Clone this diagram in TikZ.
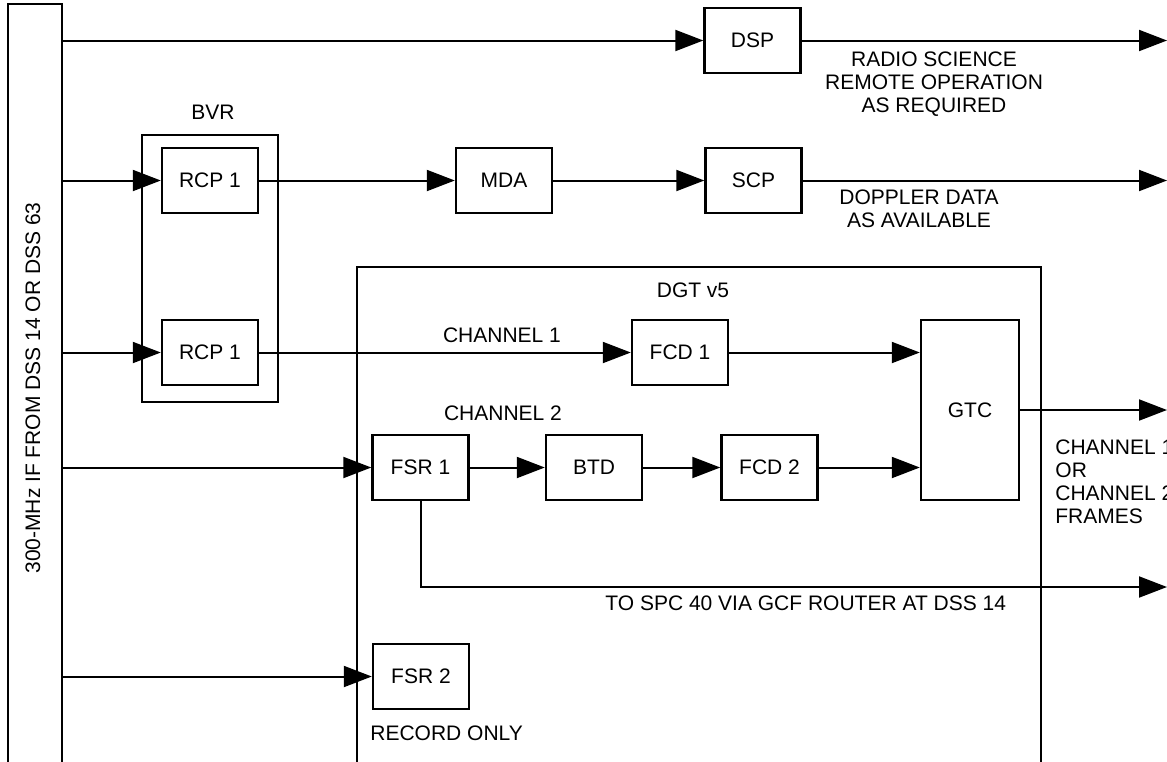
\documentclass[tikz,border=0pt]{standalone}
\usepackage{fontspec}
\setmainfont{Liberation Sans}
\usepackage{tikz}
\usetikzlibrary{arrows.meta,positioning,calc}

\begin{document}
\begin{tikzpicture}[
  x=0.5pt, y=-0.5pt,
  font=\fontsize{10.5}{11.5}\selectfont,
  blk/.style={draw, line width=1.2pt, minimum width=48pt, minimum height=32.5pt, inner sep=0pt},
  frame/.style={draw, line width=1.2pt, inner sep=0pt},
  lbl/.style={align=center, inner sep=0pt},
  note/.style={align=left, inner sep=0pt, anchor=west},
  arr/.style={-{Triangle[length=14pt, width=10.5pt]}, line width=1pt},
]
\useasboundingbox (0,0) rectangle (1167,761);
% input bus
\node[frame, minimum width=27pt, minimum height=400pt] (bus) at (35,404) {};
\node[lbl, rotate=90] (buslbl) at (33,388) {300-MHz IF FROM DSS 14 OR DSS 63};
% outer groups
\node[frame, minimum width=68pt, minimum height=133.5pt] (bvr) at (210,268.5) {};
\node[lbl] (bvrlbl) at (213,112) {BVR};
\node[frame, minimum width=342pt, minimum height=270pt] (dgt) at (699,537) {};
\node[lbl] (dgtlbl) at (693,290) {DGT v5};
% blocks
\node[blk] (dsp) at (752.5,40.5) {DSP};
\node[blk] (rcpa) at (210,180.5) {RCP 1};
\node[blk] (mda) at (504,180.5) {MDA};
\node[blk] (scp) at (753.5,180.5) {SCP};
\node[blk] (rcpb) at (210,352.5) {RCP 1};
\node[blk] (fcda) at (680,352.5) {FCD 1};
\node[blk, minimum width=49pt, minimum height=90pt] (gtc) at (970,410) {GTC};
\node[blk] (fsra) at (420.5,467.5) {FSR 1};
\node[blk] (btd) at (594,467.5) {BTD};
\node[blk] (fcdb) at (769.5,467.5) {FCD 2};
\node[blk] (fsrb) at (421,676.5) {FSR 2};
\coordinate (edge) at (1167,0);
\coordinate (spc) at (1167,587);
% links
\draw[arr] (bus.east |- dsp) -- (dsp);
\draw[arr] (dsp) -- (dsp -| edge);
\draw[arr] (bus.east |- rcpa) -- (rcpa);
\draw[arr] (rcpa) -- (mda); \draw[arr] (mda) -- (scp);
\draw[arr] (scp) -- (scp -| edge);
\draw[arr] (bus.east |- rcpb) -- (rcpb);
\draw[arr] (rcpb) -- (fcda);
\draw[arr] (fcda) -- (fcda -| gtc.west);
\draw[arr] (bus.east |- fsra) -- (fsra);
\draw[arr] (fsra) -- (btd); \draw[arr] (btd) -- (fcdb);
\draw[arr] (fcdb) -- (fcdb -| gtc.west);
\draw[arr] (gtc) -- (gtc -| edge);
\draw[arr] (fsra.south) |- (spc);
\draw[arr] (bus.east |- fsrb) -- (fsrb);
% texts
\node[lbl] (radio) at (934,84.5) {RADIO SCIENCE\\REMOTE OPERATION\\AS REQUIRED};
\node[lbl] (doppler) at (919,208.5) {DOPPLER DATA\\AS AVAILABLE};
\node[lbl] (cha) at (502,335) {CHANNEL 1};
\node[lbl] (chb) at (503,413) {CHANNEL 2};
\node[note] (frames) at (1055,482) {CHANNEL 1\\OR\\CHANNEL 2\\FRAMES};
\node[note] (spclbl) at (605,603) {TO SPC 40 VIA GCF ROUTER AT DSS 14};
\node[note] (record) at (370,733) {RECORD ONLY};
\end{tikzpicture}
\end{document}
